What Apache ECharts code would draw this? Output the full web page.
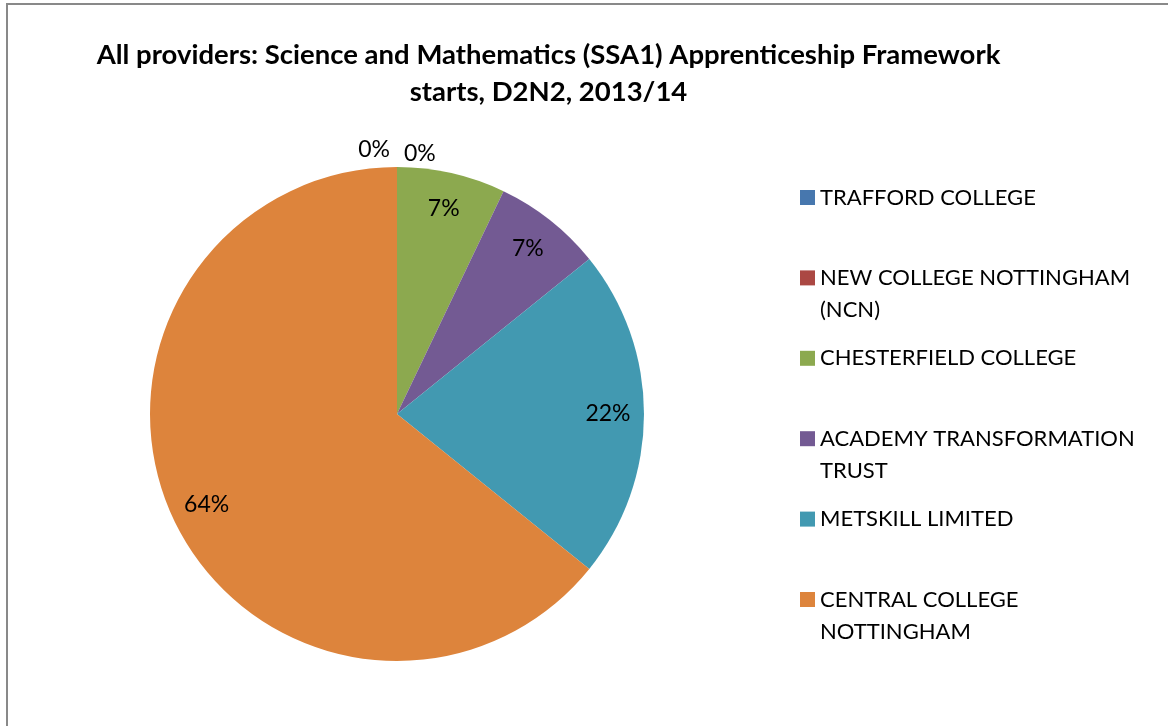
<!DOCTYPE html>
<html>
<head>
<meta charset="utf-8">
<script src="https://cdn.jsdelivr.net/npm/echarts@6/dist/echarts.min.js"></script>
<style>
  html, body { margin: 0; padding: 0; background: #fff; }
  #main { width: 1168px; height: 726px; }
</style>
</head>
<body>
<div id="main"></div>
<script>
var providers = ['TRAFFORD COLLEGE', 'NEW COLLEGE NOTTINGHAM (NCN)', 'CHESTERFIELD COLLEGE',
  'ACADEMY TRANSFORMATION TRUST', 'METSKILL LIMITED', 'CENTRAL COLLEGE NOTTINGHAM'];
var shares = [0, 0, 7.1, 7.1, 21.6, 64.2];
var colors = ['#4777AE', '#AB4843', '#8CA94F', '#735A93', '#4299B1', '#DD843C'];
// legend text wraps like the original
var legendText = {
  'NEW COLLEGE NOTTINGHAM (NCN)': 'NEW COLLEGE NOTTINGHAM\n(NCN)',
  'ACADEMY TRANSFORMATION TRUST': 'ACADEMY TRANSFORMATION\nTRUST',
  'CENTRAL COLLEGE NOTTINGHAM': 'CENTRAL COLLEGE\nNOTTINGHAM'
};

var font = 'Lato, "Liberation Sans", sans-serif';
var myChart = echarts.init(document.getElementById('main'));

var pieData = providers.map(function (n, i) {
  return { name: n, value: shares[i], itemStyle: { color: colors[i] } };
});

var pct = function (p) { return Math.round(p.percent) + '%'; };

// one legend per entry so each keeps a fixed slot
var legends = providers.map(function (n, i) {
  var wrapped = !!legendText[n];
  return {
    data: [n],
    orient: 'vertical',
    left: 800,
    top: 190 + i * 80.4 - (wrapped ? 40.5 : 8.5),
    padding: 0,
    icon: 'rect',
    itemWidth: 15,
    itemHeight: 15,
    itemGap: 0,
    selectedMode: false,
    // blank first line keeps the marker next to the first text line
    formatter: function (name) { return legendText[name] ? '\n' + legendText[name] : name; },
    textStyle: { fontFamily: font, fontSize: 22, color: '#000', lineHeight: 32 }
  };
});

var option = {
  animation: false,
  title: {
    text: 'All providers: Science and Mathematics (SSA1) Apprenticeship Framework\nstarts, D2N2, 2013/14',
    left: 543.5,
    top: 32,
    textAlign: 'center',
    textStyle: { fontFamily: font, fontSize: 27.5, fontWeight: 'bold', color: '#000', lineHeight: 37 }
  },
  graphic: [{
    type: 'rect',
    shape: { x: 7, y: 4, width: 1300, height: 900 },
    style: { fill: 'none', stroke: '#898989', lineWidth: 2 },
    silent: true
  }],
  legend: legends,
  series: [{
    name: 'starts',
    type: 'pie',
    center: [397, 414],
    radius: [0, 247],
    startAngle: 90,
    clockwise: true,
    avoidLabelOverlap: false,
    silent: true,
    data: pieData.map(function (d) {
      var o = Object.assign({}, d);
      o.label = { show: d.value === 0 };
      return o;
    }),
    label: {
      position: 'outside',
      formatter: pct,
      fontFamily: font, fontSize: 23, color: '#000'
    },
    labelLine: { show: false, length: 14, length2: 7 },
    labelLayout: function (p) {
      if (p.dataIndex === 0) return { dx: 5, dy: -3 };
      if (p.dataIndex === 1) return { align: 'left', dx: 19, dy: 1 };
      return {};
    }
  }, {
    // transparent copy: puts the inside labels at ~85% of the radius
    name: 'labels',
    type: 'pie',
    center: [397, 414],
    radius: [0, 416],
    startAngle: 90,
    clockwise: true,
    silent: true,
    legendHoverLink: false,
    data: pieData.map(function (d) {
      return { name: d.name, value: d.value, itemStyle: { color: 'rgba(0,0,0,0)' },
        label: { show: d.value > 0 } };
    }),
    label: {
      position: 'inside',
      formatter: pct,
      fontFamily: font, fontSize: 23, color: '#000'
    },
    labelLine: { show: false }
  }]
};

myChart.setOption(option);
</script>
</body>
</html>
